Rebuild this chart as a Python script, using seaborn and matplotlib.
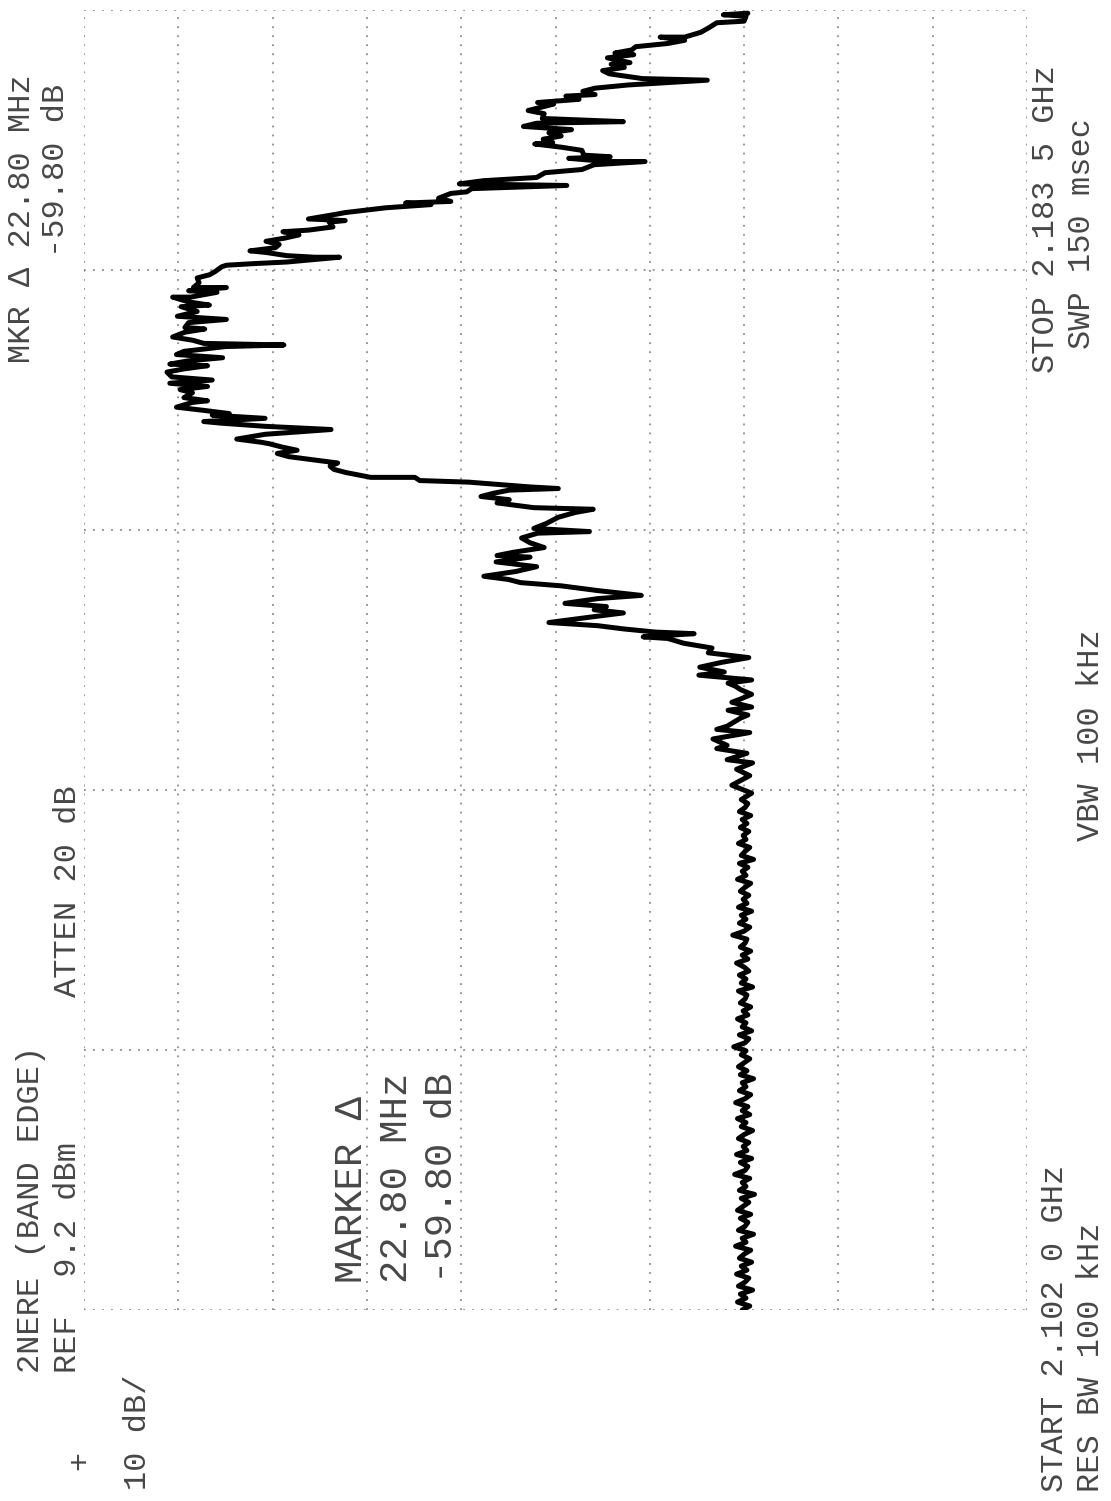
import matplotlib
matplotlib.use("Agg")
import matplotlib.pyplot as plt
import numpy as np
import pandas as pd
import seaborn as sns

# analyzer settings
ref_dbm = 9.2
db_per_div = 10
start_mhz = 2102.0
stop_mhz = 2183.5

# trace, from STOP downwards
upper_skirt_mhz = [2183.3, 2183.2, 2183.1, 2182.8, 2182.7, 2182.4, 2182.1, 2181.8, 2181.8, 2181.6,
                   2181.4, 2181.2, 2181.0, 2180.8, 2180.7, 2180.5, 2180.2, 2180.1, 2179.9, 2179.7,
                   2179.5, 2179.2, 2179.1, 2178.8, 2178.6, 2178.4, 2178.2, 2178.1, 2177.9, 2177.7,
                   2177.6, 2177.2, 2177.0, 2176.7, 2176.5, 2176.4, 2176.2, 2176.0, 2175.8, 2175.6,
                   2175.4, 2175.2, 2175.1, 2174.9, 2174.7, 2174.4, 2174.3, 2174.2, 2174.0, 2174.0,
                   2173.8, 2173.5, 2173.3, 2173.0, 2172.8, 2172.6, 2172.5, 2172.3, 2172.1, 2172.0,
                   2171.7, 2171.5, 2171.4, 2171.3, 2171.1, 2170.8, 2170.7, 2170.4, 2170.3, 2170.2,
                   2169.9, 2169.7, 2169.6, 2169.4, 2169.2]
upper_skirt_dbm = [-61.2, -58.6, -61.0, -60.8, -57.9, -57.1, -56.2, -54.5, -51.9, -54.5,
                   -52.7, -49.3, -48.9, -47.1, -49.1, -46.3, -48.7, -46.7, -48.1, -45.8,
                   -46.5, -50.0, -56.9, -48.5, -45.0, -43.7, -45.0, -41.9, -43.3, -38.9,
                   -40.6, -37.9, -39.6, -39.4, -48.0, -38.8, -37.4, -42.5, -40.1, -41.4,
                   -39.5, -40.5, -38.6, -41.4, -43.6, -43.8, -46.6, -42.2, -46.2, -50.3,
                   -44.9, -43.6, -39.7, -38.8, -33.2, -30.6, -42.0, -31.9, -31.4, -29.7,
                   -28.4, -29.7, -24.9, -27.6, -22.8, -18.5, -17.6, -14.6, -18.5, -16.8,
                   -17.2, -14.6, -11.9, -13.6, -12.1]

main_lobe_mhz = [2169.0, 2168.8, 2168.6, 2168.4, 2168.3, 2168.1, 2168.0, 2168.0, 2167.7, 2167.6,
                 2167.5, 2167.4, 2167.1, 2166.9, 2166.7, 2166.4, 2166.1, 2166.1, 2165.9, 2165.8,
                 2165.5, 2165.5, 2165.2, 2165.0, 2164.9, 2164.6, 2164.3, 2164.1, 2163.9, 2163.6,
                 2163.5, 2163.3, 2163.0, 2162.8, 2162.6, 2162.5, 2162.4, 2162.1, 2161.9, 2161.7,
                 2161.5, 2161.3, 2161.2, 2161.0, 2160.8, 2160.5, 2160.3, 2160.1, 2159.9, 2159.7,
                 2159.5, 2159.2, 2159.0, 2158.9, 2158.6, 2158.4, 2158.2, 2158.1, 2157.9, 2157.7,
                 2157.6, 2157.4, 2157.2, 2156.9, 2156.6, 2156.4, 2156.3, 2156.1, 2155.9, 2155.7,
                 2155.5, 2155.3, 2155.1, 2154.9, 2154.7, 2154.5, 2154.2, 2154.2]
main_lobe_dbm = [-10.1, -11.5, -11.1, -8.4, -10.1, -12.3, -15.3, -17.9, -12.3, -8.8,
                 -5.9, -5.4, -4.7, -4.1, -2.8, -3.0, -2.4, -5.9, -1.9, -4.9,
                 -2.1, -0.2, -1.9, -4.1, -1.1, -2.8, -0.7, -5.9, -1.9, -1.5,
                 -3.6, -1.5, -0.2, -2.3, -3.5, -12.0, -5.8, -1.4, -0.6, -5.5,
                 -1.8, 0.1, -3.9, -1.4, 0.4, -0.1, -4.4, 0.1, -3.9, -1.0,
                 -2.3, -1.4, -3.9, -2.3, -0.6, -3.5, -6.2, -4.4, -10.0, -3.5,
                 -5.3, -10.0, -17.0, -10.0, -7.0, -9.6, -10.5, -11.8, -13.4, -11.3,
                 -12.5, -15.1, -17.7, -16.9, -17.3, -18.6, -21.2, -25.9]

shoulder_mhz = [2154.0, 2153.9, 2153.6, 2153.5, 2153.4, 2153.2, 2153.0, 2152.8, 2152.6, 2152.3,
                2152.2, 2152.0, 2151.7, 2151.3, 2151.0, 2150.8, 2150.7, 2150.4, 2150.1, 2149.8,
                2149.5, 2149.3, 2149.2, 2148.9, 2148.6, 2148.3, 2148.0, 2147.8, 2147.6, 2147.4,
                2147.1, 2146.8, 2146.6, 2146.3, 2146.1, 2145.9, 2145.7, 2145.5, 2145.1, 2144.9,
                2144.7, 2144.5, 2144.4, 2144.2, 2144.1, 2143.8, 2143.5, 2143.2, 2142.9, 2142.6,
                2142.3, 2142.0, 2141.8, 2141.5, 2141.3, 2141.1, 2140.9]
shoulder_dbm = [-26.4, -31.6, -38.1, -41.1, -35.9, -34.2, -32.9, -35.9, -34.6, -38.5,
                -44.8, -42.9, -41.1, -39.8, -38.5, -44.4, -38.9, -37.2, -38.1, -39.6,
                -36.3, -34.6, -38.1, -34.5, -38.8, -36.6, -33.2, -35.8, -37.1, -41.4,
                -45.3, -49.9, -45.3, -41.8, -46.2, -44.9, -48.0, -45.3, -40.1, -45.3,
                -48.0, -51.4, -55.5, -50.1, -52.7, -54.4, -57.4, -57.0, -61.3, -58.4,
                -56.1, -58.7, -56.0, -61.6, -59.1, -59.9, -60.4]

lower_skirt_mhz = [2140.6, 2140.3, 2140.1, 2139.8, 2139.6, 2139.3, 2139.1, 2138.6, 2138.4, 2138.2,
                   2137.8, 2137.4, 2137.2, 2136.9, 2136.5, 2136.3, 2135.9, 2135.5, 2134.9, 2134.4]
lower_skirt_dbm = [-61.6, -60.4, -59.5, -61.6, -59.1, -61.2, -60.4, -59.0, -57.9, -61.4,
                   -57.5, -59.0, -57.9, -61.1, -59.0, -61.7, -60.0, -61.4, -59.5, -61.6]

# noise floor, one value per sweep point from START upwards
floor_step_mhz = 0.25
floor_dbm = [-60.6, -61.4, -60.1, -61.0, -60.4, -61.7, -60.2, -60.9, -61.3, -60.0,
             -61.1, -60.5, -61.6, -60.3, -60.8, -61.5, -59.9, -61.0, -60.6, -61.8,
             -60.2, -60.9, -61.2, -60.4, -61.5, -60.1, -60.7, -61.3, -60.5, -61.9,
             -60.3, -61.0, -60.6, -61.4, -59.8, -60.9, -61.2, -60.4, -61.6, -60.0,
             -61.1, -60.7, -61.3, -60.2, -60.8, -61.7, -60.5, -61.0, -60.1, -61.4,
             -60.6, -61.2, -59.9, -60.9, -61.5, -60.3, -61.0, -60.6, -61.8, -60.4,
             -61.1, -60.2, -60.8, -61.4, -60.5, -61.0, -59.7, -60.9, -61.3, -60.3,
             -61.6, -60.6, -61.0, -60.1, -61.2, -60.7, -61.5, -60.4, -60.9, -61.1,
             -60.2, -61.7, -60.5, -61.0, -60.3, -61.3, -60.8, -60.0, -61.2, -60.6,
             -61.5, -60.4, -60.9, -61.1, -59.6, -60.8, -61.4, -60.3, -61.0, -60.5,
             -61.6, -60.2, -61.1, -60.7, -61.3, -60.4, -60.9, -61.5, -60.1, -61.0,
             -60.6, -61.2, -60.3, -61.8, -60.5, -60.9, -61.4, -60.2, -61.0, -60.7,
             -61.3, -60.4, -61.1, -60.6, -61.5, -60.3, -60.9, -61.2, -60.5]

floor_mhz = [start_mhz + i * floor_step_mhz for i in range(len(floor_dbm))]
edge_mhz = upper_skirt_mhz + main_lobe_mhz + shoulder_mhz + lower_skirt_mhz
edge_dbm = upper_skirt_dbm + main_lobe_dbm + shoulder_dbm + lower_skirt_dbm

trace = pd.DataFrame({
    "mhz": floor_mhz + edge_mhz[::-1],
    "dbm": floor_dbm + edge_dbm[::-1],
})

sns.set_style("white")
plt.rcParams["font.family"] = ["Liberation Mono", "DejaVu Sans Mono"]

W, H = 1111, 1501
fig = plt.figure(figsize=(W / 100, H / 100), dpi=100)
fig.patch.set_facecolor("white")

# plot is printed sideways: level runs left->right (ref at left), frequency bottom->top
left, right, top, bottom = 84, 1027, 10, 1310
ax = fig.add_axes([left / W, 1 - bottom / H, (right - left) / W, (bottom - top) / H])

grid_kw = dict(color="#8c8c8c", lw=1.3, linestyle=(0, (1, 4)), zorder=1)
for k in range(11):
    ax.axvline(ref_dbm - k * db_per_div, **grid_kw)
span = stop_mhz - start_mhz
for k in range(6):
    ax.axhline(start_mhz + k * span / 5, **grid_kw)

sns.lineplot(data=trace, x="dbm", y="mhz", sort=False, estimator=None,
             color="black", linewidth=3.6, legend=False, ax=ax, zorder=3)
ax.set_xlim(ref_dbm, ref_dbm - 10 * db_per_div)
ax.set_ylim(start_mhz, stop_mhz)
ax.axis("off")

# annotations, rotated like the printout (text reads bottom -> top)
small = 23
big = 28
labels = [
    ("MKR \u0394 22.80 MHz", 22, 363, small),
    ("-59.80 dB", 56, 257, small),
    ("2NERE (BAND EDGE)", 31, 1373, small),
    ("REF  9.2 dBm", 68, 1373, small),
    ("ATTEN 20 dB", 68, 997, small),
    ("10 dB/", 138, 1490, small),
    ("+", 80, 1470, small),
    ("MARKER \u0394", 352, 1283, big),
    ("22.80 MHz", 397, 1283, big),
    ("-59.80 dB", 442, 1283, big),
    ("START 2.102 0 GHz", 1055, 1492, small),
    ("RES BW 100 kHz", 1091, 1492, small),
    ("VBW 100 kHz", 1091, 841, small),
    ("STOP 2.183 5 GHz", 1046, 373, small),
    ("SWP 150 msec", 1082, 349, small),
]
for text, x, y, size in labels:
    fig.text(x / W, 1 - y / H, text, rotation=90, ha="center", va="bottom",
             fontsize=size, color="#474747")

fig.savefig("out.png", dpi=100, facecolor="white")
